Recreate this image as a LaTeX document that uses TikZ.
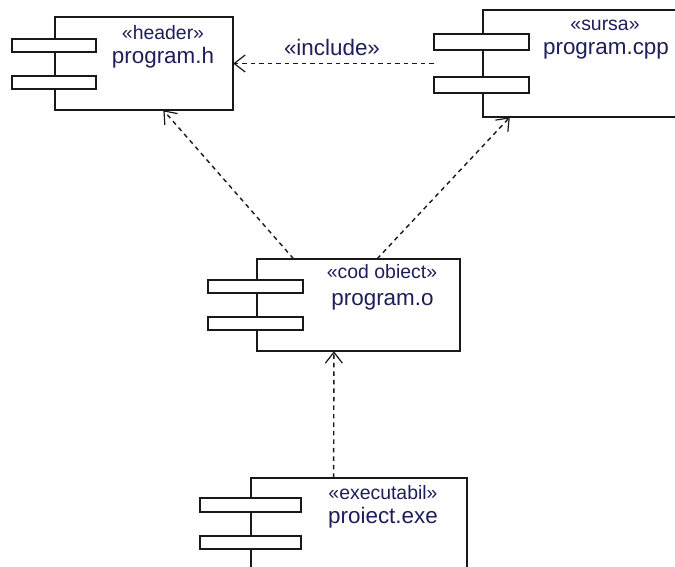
\documentclass[tikz,border=0pt]{standalone}
\usepackage{fontspec}
\setmainfont{Liberation Sans}
\usetikzlibrary{arrows.meta,fit}
\definecolor{labelink}{RGB}{30,30,90}
\definecolor{lineink}{RGB}{25,25,25}
\tikzset{
  body/.style={draw=lineink, line width=1.2bp, fill=white},
  bar/.style={draw=lineink, line width=1.2bp, fill=white},
  hull/.style={inner sep=0pt, draw=none},
  stereo/.style={anchor=base, text=labelink, inner sep=0pt, font=\fontsize{19.5}{22}\selectfont},
  cname/.style={anchor=base, text=labelink, inner sep=0pt, font=\fontsize{22.5}{26}\selectfont},
  dep/.style={draw=lineink, line width=1.4bp, dash pattern=on 4.5bp off 4bp,
    -{Straight Barb[length=11bp, width=17bp, line width=1.2bp]}}
}
\begin{document}
\begin{tikzpicture}[x=1bp, y=-1bp]
\useasboundingbox (0,0) rectangle (675,567);
\clip (0,0) rectangle (675,567);
\fill[white] (0,0) rectangle (675,567);

% component program.h
\draw[body] (55,17) rectangle (233,110);
\draw[bar] (12,39) rectangle (96,52);
\draw[bar] (12,76) rectangle (96,89);
\coordinate (h-a) at (12,17); \coordinate (h-b) at (233,110);
\node[hull, fit=(h-a)(h-b)] (hdr) {};
\node[stereo] at (163,39.5) {«header»};
\node[cname] at (163,64) {program.h};

% component program.cpp
\draw[body] (483,10) rectangle (686,117);
\draw[bar] (434,34) rectangle (529,50);
\draw[bar] (434,77) rectangle (529,93);
\coordinate (c-a) at (434,10); \coordinate (c-b) at (686,117);
\node[hull, fit=(c-a)(c-b)] (cpp) {};
\node[stereo] at (605,31) {«sursa»};
\node[cname] at (606,55) {program.cpp};

% component program.o
\draw[body] (257,259) rectangle (460,351);
\draw[bar] (208,280) rectangle (303,293);
\draw[bar] (208,317) rectangle (303,330);
\coordinate (o-a) at (208,259); \coordinate (o-b) at (460,351);
\node[hull, fit=(o-a)(o-b)] (obj) {};
\node[stereo] at (382,278) {«cod obiect»};
\node[cname] at (382.5,305) {program.o};

% component proiect.exe
\draw[body] (251,478) rectangle (467,600);
\draw[bar] (200,498) rectangle (301,512);
\draw[bar] (200,536) rectangle (301,549);
\coordinate (e-a) at (200,478); \coordinate (e-b) at (467,600);
\node[hull, fit=(e-a)(e-b)] (exe) {};
\node[stereo] at (383,499) {«executabil»};
\node[cname] at (383,523) {proiect.exe};

% dependencies
\draw[dep] (cpp) -- (hdr);
\node[stereo, font=\fontsize{22.5}{26}\selectfont] at (332,56) {«include»};
\draw[dep] (obj) -- (hdr);
\draw[dep] (obj) -- (cpp);
\draw[dep] (exe) -- (obj);
\end{tikzpicture}
\end{document}
